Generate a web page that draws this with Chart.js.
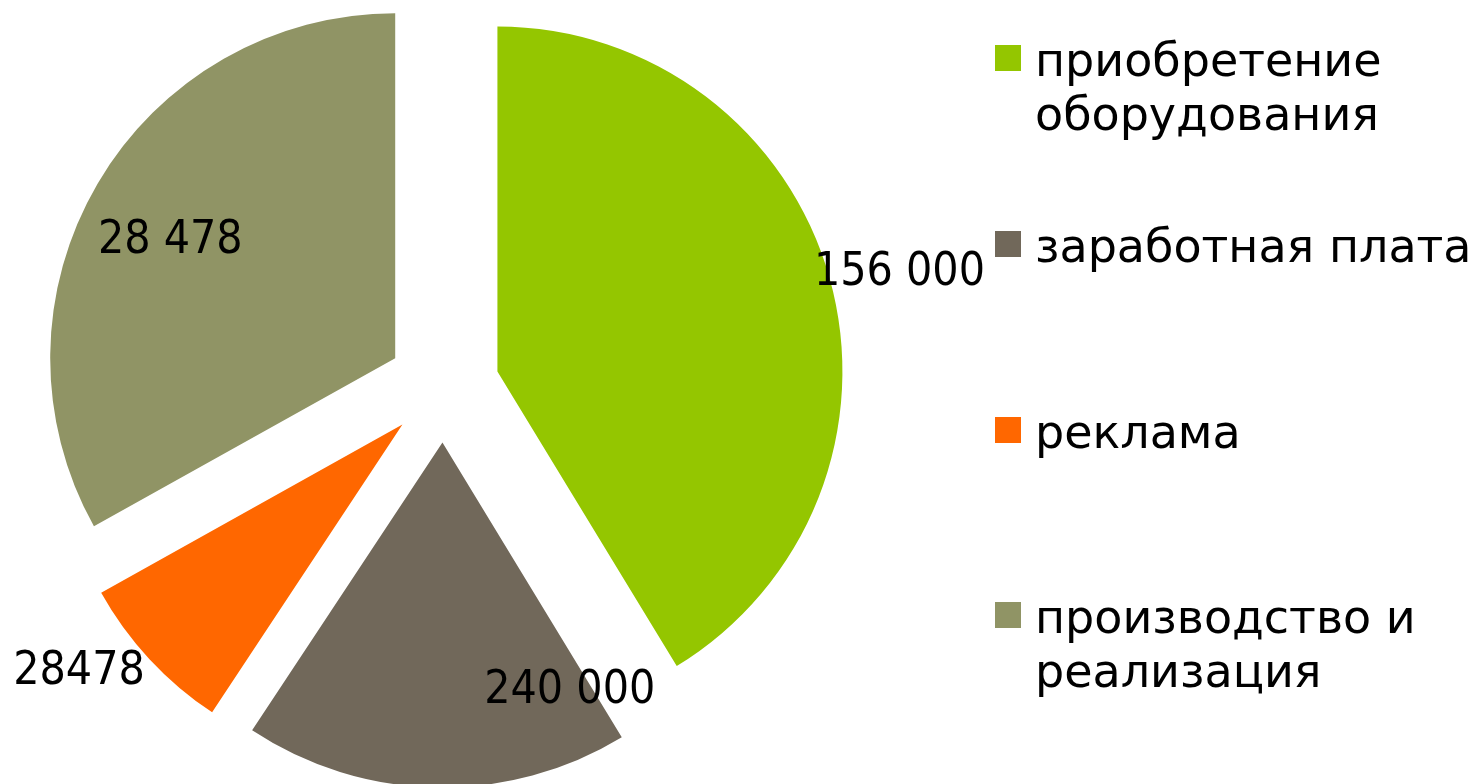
<!DOCTYPE html>
<html lang="ru">
<head>
<meta charset="utf-8">
<title>Структура затрат</title>
<script src="https://cdn.jsdelivr.net/npm/chart.js@4.4.1/dist/chart.umd.min.js"></script>
<style>
  html, body { margin: 0; padding: 0; background: #fff; }
  #wrap { position: relative; width: 1474px; height: 784px; }
</style>
</head>
<body>
<div id="wrap"><canvas id="costChart"></canvas></div>
<script>
// Категории (легенда) и их переносы строк как на слайде
const categories = ['приобретение оборудования', 'заработная плата', 'реклама', 'производство и реализация'];
const legendLines = [['приобретение', 'оборудования'], ['заработная плата'], ['реклама'], ['производство и', 'реализация']];
// Доли секторов (%)
const shares = [41.3, 18.0, 7.6, 33.1];
// Подписи, как они напечатаны у секторов
const valueLabels = ['156 000', '240 000', '28478', '28 478'];
// Цвета темы "Austin"
const colors = ['#94C600', '#71685A', '#FF6700', '#909465'];

const EXPLODE = 56; // вынос секторов от центра, px

// Вынос каждого сектора по своей биссектрисе
const explodePlugin = {
    id: 'explode',
    afterDatasetUpdate(chart, args) {
        args.meta.data.forEach(arc => {
            const mid = (arc.startAngle + arc.endAngle) / 2;
            arc.x += Math.cos(mid) * EXPLODE;
            arc.y += Math.sin(mid) * EXPLODE;
        });
    }
};

// Положение подписей: угол (град., от оси x по часовой) и доля радиуса
const labelPlacement = [
    { angle: -13.8, r: 1.20 },
    { angle: 62.9, r: 0.81 },
    { angle: 142.6, r: 1.18 },
    { angle: 207.5, r: 0.735 }
];

const valueLabelsPlugin = {
    id: 'valueLabels',
    afterDatasetsDraw(chart) {
        const ctx = chart.ctx;
        const arcs = chart.getDatasetMeta(0).data;
        ctx.save();
        ctx.font = '46px "DejaVu Sans Condensed", "DejaVu Sans", sans-serif';
        ctx.fillStyle = '#000';
        ctx.textAlign = 'center';
        ctx.textBaseline = 'middle';
        arcs.forEach((arc, i) => {
            const p = labelPlacement[i];
            const a = p.angle * Math.PI / 180;
            const x = arc.x + Math.cos(a) * arc.outerRadius * p.r;
            const y = arc.y + Math.sin(a) * arc.outerRadius * p.r;
            ctx.fillText(valueLabels[i], x, y);
        });
        ctx.restore();
    }
};

// Легенда справа: квадрат + текст в одну-две строки
const legendTops = [45, 231, 417, 602];
const sideLegendPlugin = {
    id: 'sideLegend',
    afterDraw(chart) {
        const ctx = chart.ctx;
        ctx.save();
        ctx.font = '46px "DejaVu Sans", sans-serif';
        ctx.textAlign = 'left';
        ctx.textBaseline = 'alphabetic';
        legendLines.forEach((lines, i) => {
            const top = legendTops[i];
            ctx.fillStyle = colors[i];
            ctx.fillRect(995, top, 26, 26);
            ctx.fillStyle = '#000';
            lines.forEach((line, j) => {
                ctx.fillText(line, 1035, top + 31 + j * 54);
            });
        });
        ctx.restore();
    }
};

const ctx = document.getElementById('costChart').getContext('2d');
const costChart = new Chart(ctx, {
    type: 'pie',
    data: {
        labels: categories,
        datasets: [{
            data: shares,
            backgroundColor: colors,
            borderWidth: 0,
            clip: false
        }]
    },
    options: {
        responsive: true,
        maintainAspectRatio: false,
        animation: false,
        events: [],
        radius: 345,
        layout: { padding: { left: 0, top: 0, right: 587, bottom: 11 } },
        plugins: {
            legend: { display: false },
            tooltip: { enabled: false }
        }
    },
    plugins: [explodePlugin, valueLabelsPlugin, sideLegendPlugin]
});
</script>
</body>
</html>
